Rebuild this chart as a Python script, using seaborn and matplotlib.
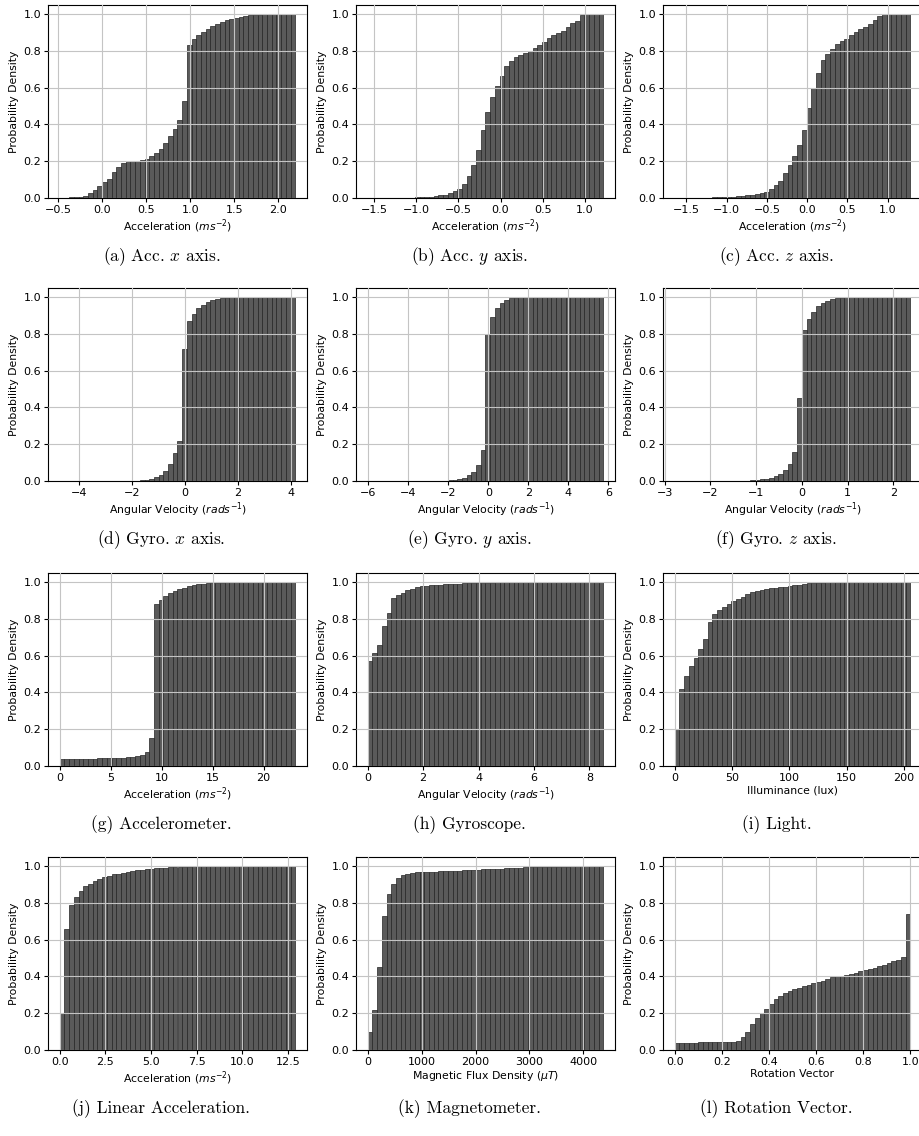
import numpy as np
import pandas as pd
import seaborn as sns
import matplotlib.pyplot as plt
from matplotlib.ticker import MultipleLocator

# cumulative probability of each bar, 50 bars per panel
acc_x = [0.001, 0.002, 0.003, 0.005, 0.008, 0.013, 0.025, 0.045, 0.068, 0.085,
         0.105, 0.14, 0.17, 0.193, 0.2, 0.201, 0.202, 0.205, 0.213, 0.227,
         0.245, 0.268, 0.298, 0.335, 0.375, 0.425, 0.53, 0.83, 0.865, 0.885,
         0.905, 0.92, 0.935, 0.947, 0.957, 0.966, 0.974, 0.981, 0.986, 0.99,
         0.994, 0.997, 0.998, 0.999, 1.0, 1.0, 1.0, 1.0, 1.0, 1.0]
acc_y = [0.0, 0.0, 0.0, 0.0, 0.0, 0.001, 0.001, 0.001, 0.002, 0.002,
         0.003, 0.004, 0.006, 0.008, 0.011, 0.014, 0.019, 0.026, 0.036, 0.05,
         0.078, 0.12, 0.18, 0.26, 0.37, 0.47, 0.55, 0.61, 0.665, 0.72,
         0.745, 0.765, 0.78, 0.79, 0.8, 0.815, 0.835, 0.85, 0.87, 0.885,
         0.895, 0.91, 0.93, 0.95, 0.965, 0.995, 1.0, 1.0, 1.0, 1.0]
acc_z = [0.0, 0.0, 0.0, 0.001, 0.001, 0.001, 0.002, 0.002, 0.003, 0.004,
         0.005, 0.006, 0.008, 0.01, 0.012, 0.014, 0.017, 0.02, 0.026, 0.035,
         0.05, 0.07, 0.095, 0.135, 0.18, 0.23, 0.29, 0.37, 0.49, 0.6,
         0.68, 0.75, 0.785, 0.81, 0.84, 0.855, 0.865, 0.885, 0.905, 0.92,
         0.93, 0.945, 0.97, 0.99, 1.0, 1.0, 1.0, 1.0, 1.0, 1.0]
gyro_x = [0.0, 0.0, 0.0, 0.0, 0.0, 0.0, 0.0, 0.0, 0.0, 0.0,
          0.0, 0.0, 0.0, 0.0, 0.0, 0.0, 0.001, 0.004, 0.008, 0.013,
          0.02, 0.034, 0.055, 0.09, 0.15, 0.22, 0.72, 0.87, 0.91, 0.94,
          0.96, 0.975, 0.985, 0.992, 0.996, 0.998, 0.999, 1.0, 1.0, 1.0,
          1.0, 1.0, 1.0, 1.0, 1.0, 1.0, 1.0, 1.0, 1.0, 1.0]
gyro_y = [0.0, 0.0, 0.0, 0.0, 0.0, 0.0, 0.0, 0.0, 0.0, 0.0,
          0.0, 0.0, 0.0, 0.0, 0.0, 0.001, 0.002, 0.004, 0.007, 0.012,
          0.018, 0.03, 0.05, 0.085, 0.17, 0.8, 0.89, 0.94, 0.97, 0.985,
          0.994, 0.998, 0.999, 1.0, 1.0, 1.0, 1.0, 1.0, 1.0, 1.0,
          1.0, 1.0, 1.0, 1.0, 1.0, 1.0, 1.0, 1.0, 1.0, 1.0]
gyro_z = [0.0, 0.0, 0.0, 0.0, 0.0, 0.0, 0.0, 0.0, 0.0, 0.0,
          0.0, 0.0, 0.0, 0.0, 0.0, 0.002, 0.004, 0.006, 0.009, 0.013,
          0.018, 0.026, 0.038, 0.058, 0.09, 0.16, 0.45, 0.82, 0.88, 0.92,
          0.95, 0.97, 0.98, 0.988, 0.994, 0.997, 0.999, 1.0, 1.0, 1.0,
          1.0, 1.0, 1.0, 1.0, 1.0, 1.0, 1.0, 1.0, 1.0, 1.0]
accel = [0.037, 0.038, 0.038, 0.038, 0.039, 0.039, 0.04, 0.04, 0.043, 0.044,
         0.044, 0.045, 0.045, 0.046, 0.048, 0.05, 0.055, 0.06, 0.075, 0.15,
         0.88, 0.905, 0.925, 0.94, 0.952, 0.962, 0.97, 0.977, 0.983, 0.988,
         0.991, 0.994, 0.996, 0.997, 0.998, 0.999, 0.999, 1.0, 1.0, 1.0,
         1.0, 1.0, 1.0, 1.0, 1.0, 1.0, 1.0, 1.0, 1.0, 1.0]
gyro = [0.57, 0.615, 0.66, 0.76, 0.83, 0.915, 0.93, 0.942, 0.955, 0.965,
        0.972, 0.977, 0.98, 0.982, 0.984, 0.986, 0.988, 0.99, 0.991, 0.992,
        0.993, 0.994, 0.995, 0.996, 0.997, 0.998, 0.998, 0.999, 0.999, 1.0,
        1.0, 1.0, 1.0, 1.0, 1.0, 1.0, 1.0, 1.0, 1.0, 1.0,
        1.0, 1.0, 1.0, 1.0, 1.0, 1.0, 1.0, 1.0, 1.0, 1.0]
light = [0.2, 0.42, 0.49, 0.545, 0.585, 0.635, 0.69, 0.785, 0.825, 0.85,
         0.865, 0.88, 0.895, 0.91, 0.922, 0.935, 0.945, 0.952, 0.958, 0.963,
         0.967, 0.97, 0.973, 0.976, 0.978, 0.982, 0.986, 0.99, 0.993, 0.995,
         0.997, 0.998, 0.999, 1.0, 1.0, 1.0, 1.0, 1.0, 1.0, 1.0,
         1.0, 1.0, 1.0, 1.0, 1.0, 1.0, 1.0, 1.0, 1.0, 1.0]
lin_acc = [0.2, 0.66, 0.79, 0.835, 0.865, 0.89, 0.905, 0.918, 0.93, 0.94,
           0.947, 0.955, 0.96, 0.965, 0.97, 0.974, 0.978, 0.981, 0.984, 0.986,
           0.988, 0.99, 0.992, 0.994, 0.995, 0.996, 0.997, 0.998, 0.999, 1.0,
           1.0, 1.0, 1.0, 1.0, 1.0, 1.0, 1.0, 1.0, 1.0, 1.0,
           1.0, 1.0, 1.0, 1.0, 1.0, 1.0, 1.0, 1.0, 1.0, 1.0]
magnet = [0.1, 0.22, 0.45, 0.73, 0.85, 0.905, 0.935, 0.95, 0.958, 0.963,
          0.966, 0.968, 0.969, 0.97, 0.971, 0.972, 0.973, 0.974, 0.975, 0.976,
          0.977, 0.978, 0.979, 0.98, 0.982, 0.984, 0.985, 0.986, 0.987, 0.988,
          0.989, 0.99, 0.991, 0.993, 0.994, 0.995, 0.995, 0.996, 0.996, 0.997,
          0.997, 0.998, 0.998, 0.999, 0.999, 1.0, 1.0, 1.0, 1.0, 1.0]
rot_vec = [0.04, 0.04, 0.04, 0.04, 0.04, 0.041, 0.041, 0.041, 0.042, 0.042,
           0.043, 0.044, 0.045, 0.048, 0.07, 0.1, 0.14, 0.175, 0.2, 0.225,
           0.25, 0.275, 0.295, 0.31, 0.32, 0.33, 0.34, 0.348, 0.355, 0.362,
           0.368, 0.375, 0.385, 0.395, 0.4, 0.405, 0.41, 0.415, 0.42, 0.428,
           0.435, 0.44, 0.447, 0.455, 0.463, 0.472, 0.482, 0.492, 0.505, 0.74]

# value range covered by the bars of each panel
ranges = [(-0.48, 2.19), (-1.574, 1.218), (-1.644, 1.279),
          (-4.713, 4.172), (-6.03, 5.745), (-2.78, 2.37),
          (0.0, 23.1), (0.0, 8.5), (0.0, 205.5),
          (0.0, 12.9), (0.0, 4370.0), (0.0, 1.0)]

# spacing of the x tick labels in each panel
xtick_steps = [0.5, 0.5, 0.5, 2, 2, 1, 5, 2, 50, 2.5, 1000, 0.2]

series = [acc_x, acc_y, acc_z, gyro_x, gyro_y, gyro_z,
          accel, gyro, light, lin_acc, magnet, rot_vec]

xlabels = ['Acceleration ($ms^{-2}$)'] * 3 + ['Angular Velocity ($rads^{-1}$)'] * 3 + \
          ['Acceleration ($ms^{-2}$)', 'Angular Velocity ($rads^{-1}$)', 'Illuminance (lux)',
           'Acceleration ($ms^{-2}$)', r'Magnetic Flux Density ($\mu T$)', 'Rotation Vector']

captions = ['(a) Acc. $x$ axis.', '(b) Acc. $y$ axis.', '(c) Acc. $z$ axis.',
            '(d) Gyro. $x$ axis.', '(e) Gyro. $y$ axis.', '(f) Gyro. $z$ axis.',
            '(g) Accelerometer.', '(h) Gyroscope.', '(i) Light.',
            '(j) Linear Acceleration.', '(k) Magnetometer.', '(l) Rotation Vector.']

plt.rcParams.update({
    'font.size': 8,
    'axes.labelsize': 7.8,
    'xtick.labelsize': 8,
    'ytick.labelsize': 8,
    'axes.linewidth': 0.8,
    'xtick.major.size': 2.6,
    'ytick.major.size': 2.6,
    'xtick.major.pad': 2.4,
    'ytick.major.pad': 2.4,
})

W, H = 920, 1136
fig = plt.figure(figsize=(W / 100, H / 100), dpi=100)

lefts = [48, 356, 663]
tops = [5, 288, 573, 857]
aw, ah = 259, 193

for i, vals in enumerate(series):
    r, c = divmod(i, 3)
    ax = fig.add_axes([lefts[c] / W, 1 - (tops[r] + ah) / H, aw / W, ah / H])
    lo, hi = ranges[i]
    step = (hi - lo) / len(vals)
    df = pd.DataFrame({'x': lo + step * (np.arange(len(vals)) + 0.5), 'p': vals})
    sns.histplot(data=df, x='x', weights='p', bins=len(vals), binrange=(lo, hi),
                 ax=ax, color='#5a5a5a', edgecolor='#242424', linewidth=0.5, alpha=1)
    ax.set_ylim(0, 1.05)
    ax.xaxis.set_major_locator(MultipleLocator(xtick_steps[i]))
    ax.grid(True, color='#c4c4c4', linewidth=0.8)
    ax.set_axisbelow(False)
    ax.set_xlabel(xlabels[i], labelpad=1.5)
    ax.set_ylabel('Probability Density', labelpad=3)
    fig.text((lefts[c] + aw / 2 - 16) / W, 1 - (tops[r] + 252) / H, captions[i],
             ha='center', va='center', family='cmr10', fontsize=12.5,
             math_fontfamily='cm')

fig.savefig('out.png', dpi=100)
